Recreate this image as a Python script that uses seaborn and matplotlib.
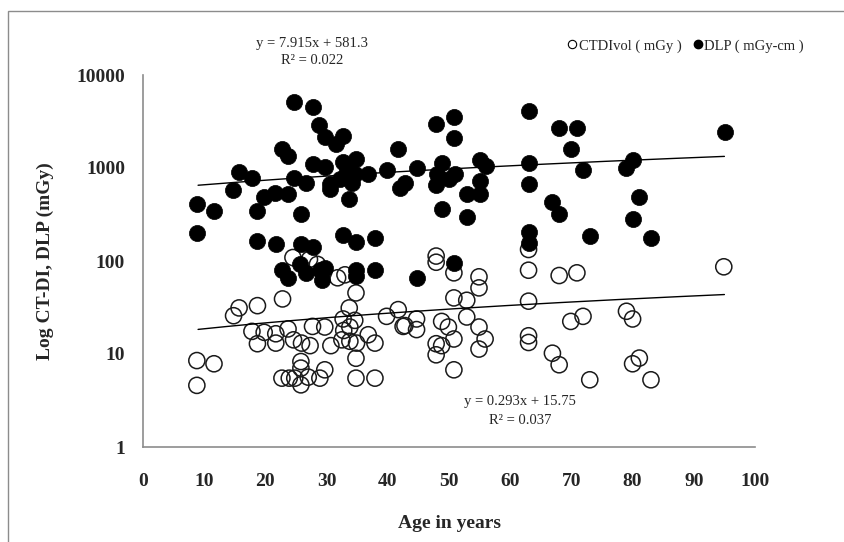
import numpy as np
import pandas as pd
import matplotlib
matplotlib.use("Agg")
import matplotlib.pyplot as plt
from matplotlib.patches import Rectangle
from matplotlib.lines import Line2D
import seaborn as sns

# CTDIvol (mGy) by patient age
ctdi_age = [8.8, 11.6, 8.8, 14.8, 15.7, 18.7, 22.8, 17.8, 19.8, 18.7, 21.7, 21.7, 23.7, 24.6,
            25.9, 27.3, 27.7, 29.7, 30.7, 32.7, 34.6, 32.8, 33.8, 32.5, 33.8, 34.9, 33.7, 34.8,
            36.8, 37.9, 39.8, 41.7, 42.5, 34.8, 25.8, 25.8, 25.8, 22.7, 23.9, 24.8, 27.0, 28.9,
            29.7, 34.8, 37.9, 24.5, 27.2, 28.5, 29.5, 31.8, 33.0, 63.0, 47.9, 47.9, 50.8, 54.9,
            54.9, 63.0, 68.0, 70.9, 94.9, 50.8, 52.9, 63.0, 44.7, 44.7, 42.8, 48.8, 49.9, 50.8,
            47.9, 48.8, 47.9, 50.8, 52.9, 54.9, 55.9, 54.9, 63.0, 63.0, 66.9, 68.0, 69.9, 71.9,
            73.0, 79.0, 80.0, 80.0, 81.1, 83.0]
ctdi_val = [8.5, 7.85, 4.6, 25.8, 31.3, 33.1, 39.1, 17.5, 17.1, 12.9, 16.5, 13.1, 18.6, 14.2,
            13.1, 12.3, 19.8, 19.5, 12.3, 23.8, 23.0, 17.9, 19.5, 14.2, 13.7, 13.1, 31.3, 45.4,
            16.1, 13.1, 25.4, 30.0, 19.8, 9.0, 8.3, 7.05, 4.66, 5.5, 5.5, 5.5, 5.64, 5.5,
            6.76, 5.5, 5.5, 109, 104, 92, 75, 66, 71, 133, 113, 97, 74.6, 67.6,
            51.4, 79.6, 69.8, 74.6, 86.6, 40.1, 37.8, 37.0, 23.8, 18.3, 20.2, 22.4, 19.5, 14.5,
            12.9, 12.3, 9.8, 6.76, 25.0, 19.5, 14.5, 11.3, 15.7, 13.3, 10.2, 7.66, 22.4, 25.4,
            5.28, 28.8, 23.8, 7.85, 9.04, 5.28]

# DLP (mGy-cm) by patient age
dlp_age = [24.7, 27.7, 28.8, 29.7, 32.7, 31.6, 22.7, 23.7, 41.7, 27.7, 29.7, 32.7, 34.8, 33.3,
           34.6, 32.2, 34.1, 36.8, 39.8, 42.0, 15.7, 17.8, 14.7, 24.7, 26.7, 30.6, 30.6, 19.7,
           21.6, 23.7, 8.8, 11.6, 18.7, 25.8, 33.7, 8.8, 18.7, 21.7, 25.8, 27.8, 32.7, 34.8,
           37.9, 22.7, 23.7, 25.6, 26.7, 28.9, 29.2, 29.7, 34.8, 34.8, 37.9, 42.8, 44.8, 44.8,
           47.9, 50.8, 50.8, 48.8, 48.1, 47.9, 50.0, 51.0, 48.8, 52.9, 55.0, 55.0, 55.1, 56.0,
           52.9, 50.8, 63.0, 63.0, 63.0, 63.0, 63.0, 68.0, 70.9, 69.9, 71.9, 66.9, 68.0, 73.0,
           80.0, 79.0, 81.0, 80.0, 83.0, 95.1]
dlp_val = [5080, 4490, 2890, 2160, 2217, 1803, 1592, 1349, 1592, 1097, 1027, 1173, 1243, 946,
           857, 756, 697, 871, 953, 615, 916, 789, 575, 775, 697, 668, 590, 487,
           543, 530, 414, 344, 344, 323, 460, 198, 166, 153, 153, 141, 190, 161,
           175, 81, 66, 92, 75, 81, 63, 85, 81, 69, 81, 697, 994, 66,
           2963, 3499, 2077, 1125, 871, 657, 756, 871, 359, 530, 725, 521, 1213, 1052,
           297, 96, 4060, 1145, 668, 205, 155, 2663, 2663, 1592, 946, 435, 317, 185,
           1213, 1011, 487, 285, 175, 2411]

# Linear trend lines (slope, intercept) and their R² values
dlp_fit = (7.915, 581.3, 0.022)
ctdi_fit = (0.293, 15.75, 0.037)
fit_range = (9, 95)

x_ticks = [0, 10, 20, 30, 40, 50, 60, 70, 80, 90, 100]
y_ticks = [1, 10, 100, 1000, 10000]

sns.set_theme(style="white")
plt.rcParams["font.family"] = ["Liberation Serif", "DejaVu Serif"]

fig = plt.figure(figsize=(8.44, 5.42), dpi=100)
ax = fig.add_axes([143 / 844, 1 - 447 / 542, (755 - 143) / 844, (447 - 75) / 542])

ctdi_df = pd.DataFrame({"age": ctdi_age, "value": ctdi_val})
dlp_df = pd.DataFrame({"age": dlp_age, "value": dlp_val})

sns.scatterplot(data=ctdi_df, x="age", y="value", ax=ax, s=135, marker="o",
                facecolor="none", edgecolor="#1a1a1a", linewidth=1.1, zorder=3)
sns.scatterplot(data=dlp_df, x="age", y="value", ax=ax, s=135, marker="o",
                color="black", edgecolor="black", linewidth=0.5, zorder=4)

xs = np.linspace(fit_range[0], fit_range[1], 200)
for slope, icept, _ in (dlp_fit, ctdi_fit):
    ax.plot(xs, slope * xs + icept, color="black", lw=1.0, zorder=5)

ax.set_yscale("log")
ax.set_xlim(0, 100)
ax.set_ylim(1, 10000)
ax.set_xticks(x_ticks)
ax.set_yticks(y_ticks)
ax.set_yticklabels([str(v) for v in y_ticks])
ax.minorticks_off()
ax.tick_params(axis="both", which="major", direction="out", length=7, width=1.0,
               color="#8c8c8c", labelsize=14, pad=6)
for lbl in ax.get_xticklabels() + ax.get_yticklabels():
    lbl.set_fontweight("bold")
ax.tick_params(axis="x", pad=12)

for side in ("top", "right"):
    ax.spines[side].set_visible(False)
for side in ("left", "bottom"):
    ax.spines[side].set_color("#8c8c8c")
    ax.spines[side].set_linewidth(1.2)

ax.set_xlabel("Age in years", fontsize=14, fontweight="bold", labelpad=18)
ax.set_ylabel("Log CT-DI, DLP (mGy)", fontsize=14, fontweight="bold", labelpad=16)

# Trend-line equations
fig.text(312 / 844, 1 - 44 / 542, f"y = {dlp_fit[0]}x + {dlp_fit[1]}", ha="center",
         va="center", fontsize=10.5)
fig.text(312 / 844, 1 - 61 / 542, f"R² = {dlp_fit[2]:.3f}", ha="center", va="center",
         fontsize=10.5)
fig.text(520 / 844, 1 - 402 / 542, f"y = {ctdi_fit[0]}x + {ctdi_fit[1]}", ha="center",
         va="center", fontsize=10.5)
fig.text(520 / 844, 1 - 420 / 542, f"R² = {ctdi_fit[2]:.3f}", ha="center", va="center",
         fontsize=10.5)

handles = [
    Line2D([], [], ls="none", marker="o", markersize=6, markerfacecolor="none",
           markeredgecolor="black", markeredgewidth=0.8),
    Line2D([], [], ls="none", marker="o", markersize=6, markerfacecolor="black",
           markeredgecolor="black"),
]
fig.legend(handles, ["CTDIvol ( mGy )", "DLP ( mGy-cm )"], ncol=2, frameon=False,
           loc="center", bbox_to_anchor=(686 / 844, 1 - 46 / 542), fontsize=10.5,
           handlelength=0.6, handletextpad=0.15, columnspacing=0.8, borderaxespad=0)

# Chart-area frame
fig.patches.append(Rectangle((8 / 844, -0.2), 1.2, 1 - 11 / 542 + 0.2,
                             transform=fig.transFigure, fill=False,
                             edgecolor="#8c8c8c", lw=1.0))

fig.savefig("out.png", dpi=100)
